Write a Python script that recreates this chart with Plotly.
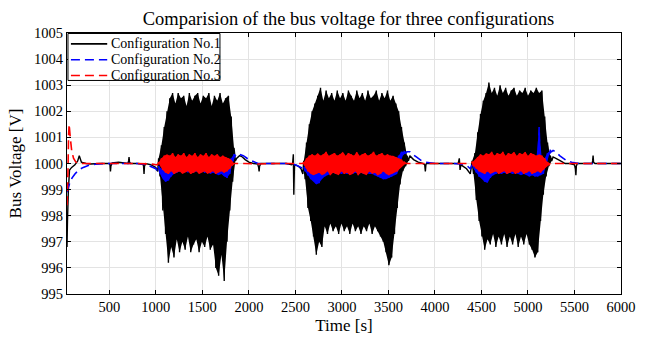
import plotly.graph_objects as go

# ---------------- data ----------------
# Configuration No.1 (black) quiet segments
c1_segA_t = [45, 50, 60, 72, 95, 130, 160, 177, 200, 250, 300, 400, 500, 507, 512, 517, 530, 600, 700, 707, 712, 717, 730, 800, 860, 868, 873, 878, 890, 950, 1000, 1020]
c1_segA_v = [996.8, 997.8, 999.0, 999.75, 999.85, 999.95, 1000.1, 1000.3, 1000.05, 1000.0, 999.98, 1000.0, 1000.0, 999.95, 999.7, 999.9, 1000.02, 1000.05, 1000.0, 1000.1, 1000.25, 1000.05, 1000.0, 1000.0, 999.98, 999.9, 999.6, 999.9, 1000.0, 999.95, 999.85, 999.7]
c1_segB_t = [1870, 1900, 1930, 1960, 2000, 2050, 2095, 2105, 2110, 2115, 2130, 2200, 2300, 2400, 2460, 2470, 2478, 2483, 2490, 2500, 2530, 2560, 2580]
c1_segB_v = [1000.2, 1000.3, 1000.25, 1000.15, 1000.05, 1000.0, 999.98, 999.85, 999.7, 999.9, 1000.0, 1000.0, 1000.0, 1000.0, 999.95, 1000.0, 1000.35, 998.8, 999.9, 999.95, 999.9, 999.8, 999.6]
c1_segC_t = [3730, 3770, 3820, 3870, 3890, 3897, 3903, 3910, 3950, 4050, 4150, 4250, 4262, 4270, 4278, 4300, 4340, 4380]
c1_segC_v = [1000.3, 1000.15, 1000.05, 1000.0, 999.95, 999.7, 999.95, 1000.0, 1000.0, 1000.0, 1000.0, 1000.0, 1000.2, 999.75, 999.95, 999.9, 999.8, 999.6]
c1_segD_t = [5270, 5300, 5350, 5400, 5450, 5500, 5510, 5515, 5520, 5530, 5600, 5690, 5695, 5700, 5705, 5720, 5800, 5900, 6000]
c1_segD_v = [1000.25, 1000.2, 1000.1, 1000.0, 1000.0, 999.95, 999.8, 999.55, 999.9, 1000.0, 1000.0, 1000.0, 1000.1, 1000.3, 1000.05, 1000.0, 1000.0, 1000.0, 1000.0]

# oscillation blocks: sample times (peaks at t, troughs half a sample later)
blk1_t = list(range(1030, 1841, 30))
blk2_t = list(range(2590, 3701, 30))
blk3_t = list(range(4400, 5241, 30))
half_step = 15

c1_hi1 = [1000.2, 1000.7, 1001.4, 1002.0, 1002.5, 1002.7, 1002.3, 1002.7, 1002.5, 1002.6, 1002.2, 1002.7, 1002.4, 1002.6, 1002.7, 1002.3, 1002.6, 1002.5, 1002.7, 1002.2, 1002.6, 1002.4, 1002.7, 1002.3, 1002.5, 1002.6, 1001.8, 1000.6]
c1_lo1 = [999.5, 998.2, 997.3, 996.2, 996.8, 996.4, 997.1, 996.6, 997.0, 996.7, 997.2, 996.6, 996.9, 997.1, 996.6, 997.0, 996.8, 997.2, 996.7, 996.9, 996.0, 995.7, 996.5, 995.5, 997.0, 998.2, 999.3, 1000.1]
c1_hi2 = [1000.1, 1000.8, 1001.5, 1002.0, 1002.3, 1002.6, 1002.9, 1002.4, 1002.8, 1002.5, 1002.7, 1002.4, 1002.8, 1002.5, 1002.7, 1002.4, 1002.8, 1002.6, 1002.4, 1002.8, 1002.5, 1002.7, 1002.4, 1002.8, 1002.5, 1002.6, 1002.8, 1002.4, 1002.7, 1002.5, 1002.8, 1002.4, 1002.6, 1002.3, 1002.0, 1001.4, 1000.8, 1000.3]
c1_lo2 = [999.4, 998.3, 997.8, 997.2, 996.5, 997.0, 996.8, 997.6, 997.3, 997.7, 997.4, 997.6, 997.3, 997.7, 997.4, 997.6, 997.3, 997.7, 997.4, 997.6, 997.3, 997.6, 997.4, 997.7, 997.3, 997.6, 997.4, 997.2, 997.0, 996.6, 996.1, 996.4, 997.3, 998.3, 999.2, 999.7, 999.9, 1000.1]
c1_hi3 = [1000.1, 1000.4, 1001.2, 1001.9, 1002.4, 1002.7, 1003.1, 1002.7, 1002.9, 1002.6, 1003.0, 1002.7, 1002.9, 1002.6, 1002.8, 1002.9, 1002.6, 1002.8, 1002.7, 1002.9, 1002.6, 1002.8, 1002.7, 1002.9, 1002.7, 1002.8, 1001.8, 1000.8, 1000.3]
c1_lo3 = [999.6, 998.6, 997.8, 997.2, 996.7, 997.1, 996.9, 997.3, 996.8, 997.2, 996.9, 997.3, 996.8, 997.2, 996.9, 997.3, 996.8, 997.2, 996.9, 997.3, 996.9, 996.7, 996.4, 996.6, 997.8, 998.8, 999.5, 999.9, 1000.1]

# Configuration No.2 (blue)
c2_segA_t = [45, 60, 80, 100, 130, 170, 220, 280, 350, 450, 600, 800, 900, 1000, 1020]
c2_segA_v = [998.9, 999.1, 999.3, 999.45, 999.6, 999.75, 999.85, 999.93, 999.97, 1000.0, 1000.0, 1000.0, 999.95, 999.8, 999.7]
c2_segB_t = [1870, 1900, 1940, 1980, 2030, 2100, 2200, 2300, 2400, 2500, 2560, 2580]
c2_segB_v = [1000.38, 1000.35, 1000.3, 1000.2, 1000.1, 1000.0, 1000.0, 1000.0, 1000.0, 999.95, 999.85, 999.8]
c2_segC_t = [3730, 3760, 3800, 3850, 3900, 4000, 4100, 4200, 4300, 4350, 4380]
c2_segC_v = [1000.45, 1000.35, 1000.25, 1000.12, 1000.05, 1000.0, 1000.0, 1000.0, 999.97, 999.9, 999.8]
c2_segD_t = [5270, 5300, 5340, 5380, 5420, 5470, 5550, 5650, 5800, 6000]
c2_segD_v = [1000.5, 1000.45, 1000.3, 1000.2, 1000.1, 1000.05, 1000.0, 1000.0, 1000.0, 1000.0]
c2_hi1 = [999.9, 999.8, 999.75, 999.8, 1000.0, 1000.1, 1000.2, 1000.15, 1000.2, 1000.1, 1000.2, 1000.15, 1000.25, 1000.1, 1000.2, 1000.15, 1000.2, 1000.1, 1000.2, 1000.15, 1000.2, 1000.1, 1000.15, 1000.1, 1000.05, 1000.1, 1000.2, 1000.35]
c2_lo1 = [999.6, 999.4, 999.3, 999.35, 999.5, 999.6, 999.65, 999.7, 999.65, 999.7, 999.65, 999.7, 999.65, 999.7, 999.65, 999.7, 999.65, 999.7, 999.6, 999.65, 999.6, 999.55, 999.6, 999.5, 999.45, 999.6, 1000.0, 1000.3]
c2_hi2 = [999.9, 999.85, 999.8, 999.75, 999.8, 999.85, 1000.0, 1000.1, 1000.2, 1000.15, 1000.2, 1000.1, 1000.2, 1000.15, 1000.25, 1000.1, 1000.2, 1000.15, 1000.2, 1000.1, 1000.2, 1000.15, 1000.2, 1000.1, 1000.2, 1000.15, 1000.2, 1000.1, 1000.15, 1000.1, 1000.1, 1000.05, 1000.1, 1000.15, 1000.3, 1000.45, 1000.45, 1000.45]
c2_lo2 = [999.7, 999.55, 999.4, 999.3, 999.2, 999.25, 999.4, 999.5, 999.55, 999.6, 999.65, 999.6, 999.65, 999.6, 999.65, 999.6, 999.65, 999.6, 999.65, 999.6, 999.65, 999.6, 999.65, 999.6, 999.6, 999.55, 999.5, 999.45, 999.4, 999.4, 999.45, 999.5, 999.55, 999.6, 1000.0, 1000.3, 1000.4, 1000.45]
c2_hi3 = [999.95, 999.9, 999.85, 999.8, 999.8, 999.85, 999.95, 1000.05, 1000.15, 1000.2, 1000.15, 1000.2, 1000.1, 1000.2, 1000.15, 1000.2, 1000.1, 1000.2, 1000.15, 1000.1, 1000.15, 1000.1, 1000.15, 1000.15, 1001.4, 1000.1, 1000.2, 1000.4, 1000.5]
c2_lo3 = [999.8, 999.65, 999.5, 999.4, 999.3, 999.25, 999.45, 999.55, 999.6, 999.65, 999.6, 999.65, 999.6, 999.65, 999.6, 999.65, 999.6, 999.55, 999.6, 999.55, 999.5, 999.55, 999.5, 999.5, 999.55, 999.6, 999.9, 1000.3, 1000.45]

# Configuration No.3 (red)
c3_segA_t = [45, 55, 62, 68, 80, 95, 115, 140, 180, 250, 400, 600, 800, 950, 1000, 1020]
c3_segA_v = [998.4, 999.6, 1001.1, 1001.5, 1001.0, 1000.5, 1000.2, 1000.05, 1000.0, 1000.0, 1000.0, 1000.0, 1000.0, 999.98, 999.95, 999.95]
c3_segB_t = [1870, 1950, 2100, 2300, 2500, 2580]
c3_segB_v = [1000.0, 1000.0, 999.98, 1000.0, 1000.0, 1000.0]
c3_segC_t = [3730, 3850, 4000, 4200, 4380]
c3_segC_v = [1000.0, 1000.0, 1000.0, 1000.0, 1000.0]
c3_segD_t = [5270, 5400, 5600, 5800, 6000]
c3_segD_v = [1000.0, 1000.0, 1000.0, 1000.0, 1000.0]
c3_hi1 = [1000.05, 1000.2, 1000.3, 1000.35, 1000.3, 1000.4, 1000.25, 1000.35, 1000.3, 1000.4, 1000.25, 1000.35, 1000.3, 1000.4, 1000.25, 1000.35, 1000.3, 1000.4, 1000.25, 1000.35, 1000.3, 1000.35, 1000.25, 1000.3, 1000.25, 1000.2, 1000.15, 1000.0]
c3_lo1 = [999.9, 999.75, 999.65, 999.6, 999.7, 999.6, 999.65, 999.7, 999.6, 999.65, 999.7, 999.6, 999.65, 999.7, 999.6, 999.65, 999.7, 999.6, 999.65, 999.7, 999.6, 999.65, 999.7, 999.65, 999.7, 999.8, 999.95, 1000.0]
c3_hi2 = [1000.05, 1000.2, 1000.3, 1000.35, 1000.3, 1000.4, 1000.3, 1000.35, 1000.45, 1000.3, 1000.35, 1000.4, 1000.3, 1000.35, 1000.45, 1000.3, 1000.4, 1000.35, 1000.3, 1000.45, 1000.3, 1000.35, 1000.4, 1000.3, 1000.35, 1000.45, 1000.3, 1000.35, 1000.4, 1000.3, 1000.35, 1000.3, 1000.3, 1000.25, 1000.2, 1000.15, 1000.05, 1000.0]
c3_lo2 = [999.85, 999.7, 999.6, 999.55, 999.6, 999.65, 999.55, 999.6, 999.7, 999.55, 999.65, 999.6, 999.55, 999.7, 999.6, 999.65, 999.55, 999.6, 999.7, 999.55, 999.65, 999.6, 999.55, 999.7, 999.6, 999.65, 999.55, 999.6, 999.7, 999.6, 999.55, 999.6, 999.65, 999.7, 999.8, 999.9, 1000.0, 1000.0]
c3_hi3 = [1000.05, 1000.15, 1000.25, 1000.35, 1000.3, 1000.4, 1000.35, 1000.45, 1000.3, 1000.4, 1000.35, 1000.45, 1000.3, 1000.4, 1000.35, 1000.45, 1000.3, 1000.4, 1000.35, 1000.45, 1000.3, 1000.4, 1000.35, 1000.3, 1000.35, 1000.3, 1000.2, 1000.05, 1000.0]
c3_lo3 = [999.9, 999.8, 999.7, 999.65, 999.6, 999.7, 999.6, 999.65, 999.7, 999.6, 999.65, 999.7, 999.6, 999.65, 999.7, 999.6, 999.65, 999.7, 999.6, 999.65, 999.7, 999.6, 999.65, 999.7, 999.65, 999.75, 999.85, 999.95, 1000.0]

x_ticks = [500, 1000, 1500, 2000, 2500, 3000, 3500, 4000, 4500, 5000, 5500, 6000]
y_ticks = [995, 996, 997, 998, 999, 1000, 1001, 1002, 1003, 1004, 1005]
names = ["Configuration No.1", "Configuration No.2", "Configuration No.3"]
colors = ["black", "#0000ff", "#ff0000"]
DASH = "9px,5px"


def block(ts, hi, lo):
    xs, ys = [], []
    for t, h, l in zip(ts, hi, lo):
        xs += [t, t + half_step]
        ys += [h, l]
    return xs, ys


def band(ts, hi, lo):
    # closed outline: peaks left->right, troughs right->left
    xs = list(ts) + [t + half_step for t in ts][::-1]
    ys = list(hi) + list(lo)[::-1]
    return xs, ys


def series(segs, blocks):
    xs, ys = [], []
    order = [segs[0], blocks[0], segs[1], blocks[1], segs[2], blocks[2], segs[3]]
    for i, part in enumerate(order):
        if i % 2 == 0:
            xs += part[0]; ys += part[1]
        else:
            bx, by = block(*part)
            xs += bx; ys += by
    return xs, ys


all_segs = [
    [(c1_segA_t, c1_segA_v), (c1_segB_t, c1_segB_v), (c1_segC_t, c1_segC_v), (c1_segD_t, c1_segD_v)],
    [(c2_segA_t, c2_segA_v), (c2_segB_t, c2_segB_v), (c2_segC_t, c2_segC_v), (c2_segD_t, c2_segD_v)],
    [(c3_segA_t, c3_segA_v), (c3_segB_t, c3_segB_v), (c3_segC_t, c3_segC_v), (c3_segD_t, c3_segD_v)],
]
all_blocks = [
    [(blk1_t, c1_hi1, c1_lo1), (blk2_t, c1_hi2, c1_lo2), (blk3_t, c1_hi3, c1_lo3)],
    [(blk1_t, c2_hi1, c2_lo1), (blk2_t, c2_hi2, c2_lo2), (blk3_t, c2_hi3, c2_lo3)],
    [(blk1_t, c3_hi1, c3_lo1), (blk2_t, c3_hi2, c3_lo2), (blk3_t, c3_hi3, c3_lo3)],
]

FONT = "Liberation Serif"

fig = go.Figure()
for k in range(3):
    # dense oscillation: filled envelope of the band
    for blk in all_blocks[k]:
        bx, by = band(*blk)
        fig.add_trace(go.Scatter(x=bx, y=by, mode="lines", fill="toself",
                                 fillcolor=colors[k], line=dict(width=0, color=colors[k]),
                                 showlegend=False, hoverinfo="skip"))
    xs, ys = series(all_segs[k], all_blocks[k])
    line = dict(color=colors[k], width=1.4 if k == 0 else 1.6, simplify=False)
    if k > 0:
        line["dash"] = DASH
    fig.add_trace(go.Scatter(x=xs, y=ys, mode="lines", name=names[k], line=line,
                             showlegend=False))

# ---- legend box drawn MATLAB-style (compact rows) ----
PLOT_L, PLOT_R, PLOT_T, PLOT_B = 67, 632, 33, 297
def px(x): return (x - PLOT_L) / (PLOT_R - PLOT_L)
def py(y): return (PLOT_B - y) / (PLOT_B - PLOT_T)

shapes = [dict(type="rect", xref="paper", yref="paper", layer="above",
               x0=px(68), x1=px(223), y0=py(81), y1=py(33.5),
               fillcolor="white", line=dict(color="black", width=1))]
annotations = []
row_y = [44, 60, 76]
for k in range(3):
    ln = dict(color=colors[k], width=1.6)
    if k > 0:
        ln["dash"] = DASH
    shapes.append(dict(type="line", xref="paper", yref="paper", layer="above",
                       x0=px(71), x1=px(108), y0=py(row_y[k]), y1=py(row_y[k]), line=ln))
    annotations.append(dict(text=names[k], xref="paper", yref="paper", x=px(110), y=py(row_y[k]),
                            xanchor="left", yanchor="middle", showarrow=False,
                            font=dict(family=FONT, size=14, color="black")))

axis_common = dict(showline=True, linecolor="black", linewidth=1, mirror="allticks",
                   ticks="inside", ticklen=4, tickcolor="black",
                   showgrid=True, gridcolor="#e3e3e3", gridwidth=1, zeroline=False,
                   tickfont=dict(family=FONT, size=14.5, color="black"))

fig.update_layout(
    width=648, height=343,
    margin=dict(l=PLOT_L, r=648 - PLOT_R, t=PLOT_T, b=343 - PLOT_B),
    paper_bgcolor="white", plot_bgcolor="white",
    font=dict(family=FONT, color="black"),
    title=dict(text="Comparision of the bus voltage for three configurations",
               x=0.508, xref="paper", xanchor="center", y=1 - 19 / 343, yanchor="middle",
               font=dict(family=FONT, size=18.5, color="black")),
    xaxis=dict(range=[45, 6000], tickvals=x_ticks,
               title=dict(text="Time [s]", font=dict(family=FONT, size=17), standoff=4),
               **axis_common),
    yaxis=dict(range=[995, 1005], tickvals=y_ticks,
               title=dict(text="Bus Voltage [V]", font=dict(family=FONT, size=17), standoff=8),
               **axis_common),
    shapes=shapes,
    annotations=annotations,
    showlegend=False,
)

fig.write_html("out.html")
